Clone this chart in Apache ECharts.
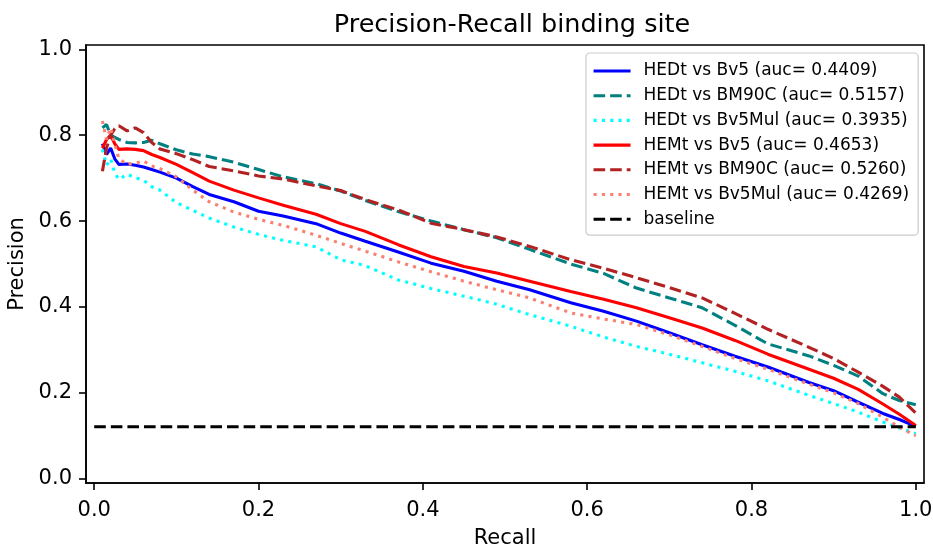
<!DOCTYPE html>
<html>
<head>
<meta charset="utf-8">
<script src="https://cdn.jsdelivr.net/npm/echarts@6.0.0/dist/echarts.min.js"></script>
<style>
  html, body { margin: 0; padding: 0; background: #fff; }
  #chart { width: 933px; height: 546px; }
</style>
</head>
<body>
<div id="chart"></div>
<script>
// recall points shared by every curve
var recall = [0.01, 0.015, 0.02, 0.025, 0.03, 0.04, 0.05, 0.06, 0.07, 0.08, 0.1, 0.12, 0.14, 0.17, 0.2, 0.23, 0.27, 0.3, 0.33, 0.37, 0.41, 0.45, 0.49, 0.53, 0.58, 0.62, 0.66, 0.7, 0.74, 0.78, 0.82, 0.87, 0.9, 0.93, 0.96, 0.98, 1.0];

var hedtBv5 = [0.78, 0.755, 0.77, 0.745, 0.732, 0.733, 0.73, 0.726, 0.72, 0.714, 0.70, 0.68, 0.662, 0.645, 0.623, 0.612, 0.594, 0.572, 0.553, 0.528, 0.502, 0.483, 0.46, 0.44, 0.41, 0.39, 0.367, 0.34, 0.312, 0.285, 0.26, 0.224, 0.205, 0.178, 0.152, 0.138, 0.122];
var hedtBm90c = [0.817, 0.825, 0.80, 0.795, 0.79, 0.783, 0.782, 0.783, 0.788, 0.78, 0.766, 0.756, 0.75, 0.737, 0.72, 0.703, 0.687, 0.67, 0.648, 0.622, 0.60, 0.58, 0.561, 0.534, 0.50, 0.478, 0.444, 0.421, 0.398, 0.357, 0.314, 0.286, 0.264, 0.239, 0.198, 0.182, 0.172];
var hedtBv5Mul = [0.767, 0.73, 0.745, 0.712, 0.697, 0.709, 0.701, 0.695, 0.68, 0.672, 0.643, 0.625, 0.607, 0.586, 0.569, 0.555, 0.54, 0.51, 0.496, 0.463, 0.443, 0.425, 0.406, 0.382, 0.355, 0.33, 0.308, 0.29, 0.27, 0.25, 0.228, 0.194, 0.175, 0.155, 0.132, 0.118, 0.105];
var hemtBv5 = [0.77, 0.79, 0.80, 0.78, 0.767, 0.768, 0.767, 0.764, 0.755, 0.748, 0.732, 0.713, 0.693, 0.672, 0.654, 0.637, 0.616, 0.594, 0.576, 0.545, 0.517, 0.494, 0.479, 0.46, 0.436, 0.418, 0.398, 0.375, 0.351, 0.322, 0.29, 0.255, 0.234, 0.208, 0.174, 0.15, 0.124];
var hemtBm90c = [0.716, 0.77, 0.80, 0.815, 0.822, 0.81, 0.817, 0.806, 0.783, 0.768, 0.757, 0.743, 0.727, 0.717, 0.705, 0.698, 0.682, 0.671, 0.65, 0.626, 0.595, 0.58, 0.563, 0.541, 0.51, 0.49, 0.468, 0.445, 0.421, 0.385, 0.348, 0.306, 0.28, 0.248, 0.215, 0.19, 0.153];
var hemtBv5Mul = [0.833, 0.79, 0.817, 0.78, 0.745, 0.732, 0.735, 0.74, 0.728, 0.722, 0.703, 0.672, 0.645, 0.621, 0.604, 0.59, 0.567, 0.548, 0.53, 0.505, 0.482, 0.46, 0.44, 0.421, 0.386, 0.372, 0.359, 0.335, 0.308, 0.28, 0.255, 0.22, 0.2, 0.175, 0.143, 0.12, 0.10];

var baselineRecall = [0, 1];
var baselinePrecision = [0.121, 0.121];

var names = [
  'HEDt vs Bv5 (auc= 0.4409)',
  'HEDt vs BM90C (auc= 0.5157)',
  'HEDt vs Bv5Mul (auc= 0.3935)',
  'HEMt vs Bv5 (auc= 0.4653)',
  'HEMt vs BM90C (auc= 0.5260)',
  'HEMt vs Bv5Mul (auc= 0.4269)',
  'baseline'
];
var tickValues = [0, 0.2, 0.4, 0.6, 0.8, 1.0];

var DASH = [11.6, 5];
var DOT = [3.1, 5.2];
var FONT = 'DejaVu Sans';

function pairs(xs, ys) {
  return xs.map(function (x, i) { return [x, ys[i]]; });
}

function lineSeries(name, ys, xs, color, type) {
  return {
    name: name,
    type: 'line',
    data: pairs(xs, ys),
    showSymbol: false,
    symbol: 'none',
    color: color,
    lineStyle: { width: 3.1, color: color, type: type, cap: 'butt' },
    emphasis: { disabled: true }
  };
}

var series = [
  lineSeries(names[0], hedtBv5, recall, '#0000ff', 'solid'),
  lineSeries(names[1], hedtBm90c, recall, '#008080', DASH),
  lineSeries(names[2], hedtBv5Mul, recall, '#00ffff', DOT),
  lineSeries(names[3], hemtBv5, recall, '#ff0000', 'solid'),
  lineSeries(names[4], hemtBm90c, recall, '#b22222', DASH),
  lineSeries(names[5], hemtBv5Mul, recall, '#fa8072', DOT),
  lineSeries(names[6], baselinePrecision, baselineRecall, '#000000', DASH)
];

function axisCommon(margin) {
  return {
    type: 'value',
    min: -0.01,
    max: 1.01,
    nameLocation: 'middle',
    nameTextStyle: { fontFamily: FONT, fontSize: 21, color: '#000' },
    axisLine: { show: true, onZero: false, lineStyle: { color: '#000', width: 1.6 } },
    axisTick: { show: true, inside: false, length: 7, customValues: tickValues, lineStyle: { color: '#000', width: 1.6 } },
    axisLabel: {
      customValues: tickValues,
      fontFamily: FONT,
      fontSize: 21,
      color: '#000',
      margin: margin,
      formatter: function (v) { return v.toFixed(1); }
    },
    splitLine: { show: false }
  };
}

var xAxis = axisCommon(17);
xAxis.name = 'Recall';
xAxis.nameGap = 45;

var yAxis = axisCommon(14);
yAxis.name = 'Precision';
yAxis.nameGap = 58;

var chart = echarts.init(document.getElementById('chart'), null, { renderer: 'canvas' });
chart.setOption({
  animation: false,
  backgroundColor: '#fff',
  title: {
    text: 'Precision-Recall binding site',
    left: 507,
    textAlign: 'center',
    top: 7,
    textStyle: { fontFamily: FONT, fontSize: 25.5, fontWeight: 'normal', color: '#000' }
  },
  grid: {
    left: 86,
    right: 9,
    top: 45,
    bottom: 63,
    show: true,
    borderColor: '#000',
    borderWidth: 1.6,
    containLabel: false,
    outerBoundsMode: 'none'
  },
  legend: {
    data: names,
    orient: 'vertical',
    left: 586,
    top: 53,
    padding: [8, 9, 6, 6],
    itemWidth: 37,
    itemHeight: 12,
    itemGap: 4.7,
    backgroundColor: 'rgba(255,255,255,0.8)',
    borderColor: '#cccccc',
    borderWidth: 1.2,
    borderRadius: 4,
    selectedMode: false,
    itemStyle: { opacity: 0 },
    lineStyle: { width: 3.1 },
    textStyle: { fontFamily: FONT, fontSize: 17, color: '#000', lineHeight: 20, padding: [0, 0, 0, 8] }
  },
  xAxis: xAxis,
  yAxis: yAxis,
  series: series
});
</script>
</body>
</html>
